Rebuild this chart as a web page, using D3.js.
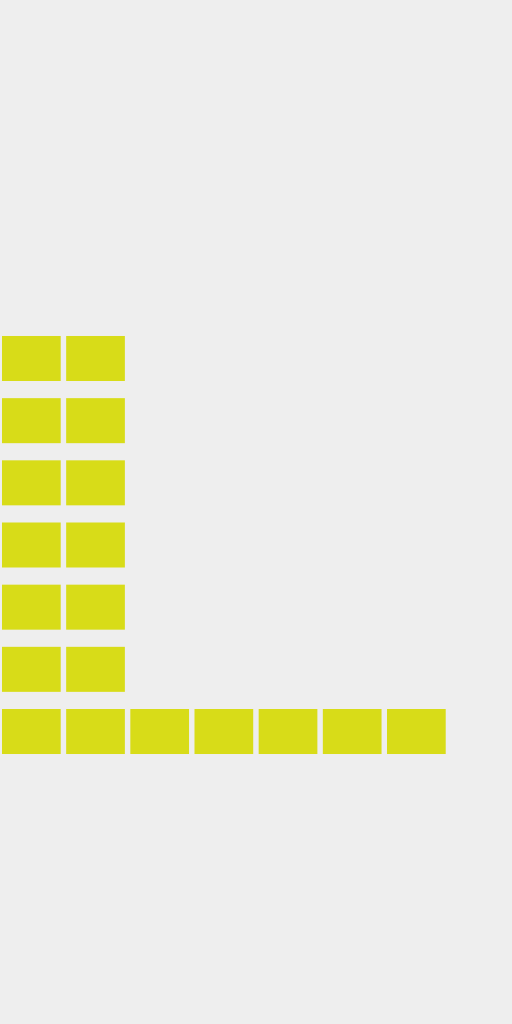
<!DOCTYPE html>
<html>
<head>
<meta charset="utf-8">
<script src="https://cdn.jsdelivr.net/npm/d3@7"></script>
<style>
  html, body { margin: 0; padding: 0; background: #eeeeee; }
  svg { display: block; }
</style>
</head>
<body>
<div id="chart"></div>
<script>
// Unit counts per column (each unit is one block, stacked from the bottom)
const categories = ["A", "B", "C", "D", "E", "F", "G"];
const values = [7, 7, 1, 1, 1, 1, 1];
const maxUnits = 7;

const width = 512, height = 1024;
const svg = d3.select("#chart").append("svg")
  .attr("width", width).attr("height", height);

svg.append("rect").attr("width", width).attr("height", height).attr("fill", "#eeeeee");

const x = d3.scaleBand()
  .domain(categories)
  .range([0, 447.7])
  .paddingInner(0.085)
  .paddingOuter(0.031);

const y = d3.scaleBand()
  .domain(d3.range(maxUnits))
  .range([757, 333])
  .paddingInner(0.276)
  .paddingOuter(0.048);

const cells = [];
categories.forEach((c, i) => {
  for (let k = 0; k < values[i]; k++) cells.push({ cat: c, k });
});

svg.append("g").selectAll("rect")
  .data(cells)
  .join("rect")
  .attr("x", d => x(d.cat))
  .attr("y", d => y(d.k))
  .attr("width", x.bandwidth())
  .attr("height", y.bandwidth())
  .attr("fill", "#d8dc18");
</script>
</body>
</html>
